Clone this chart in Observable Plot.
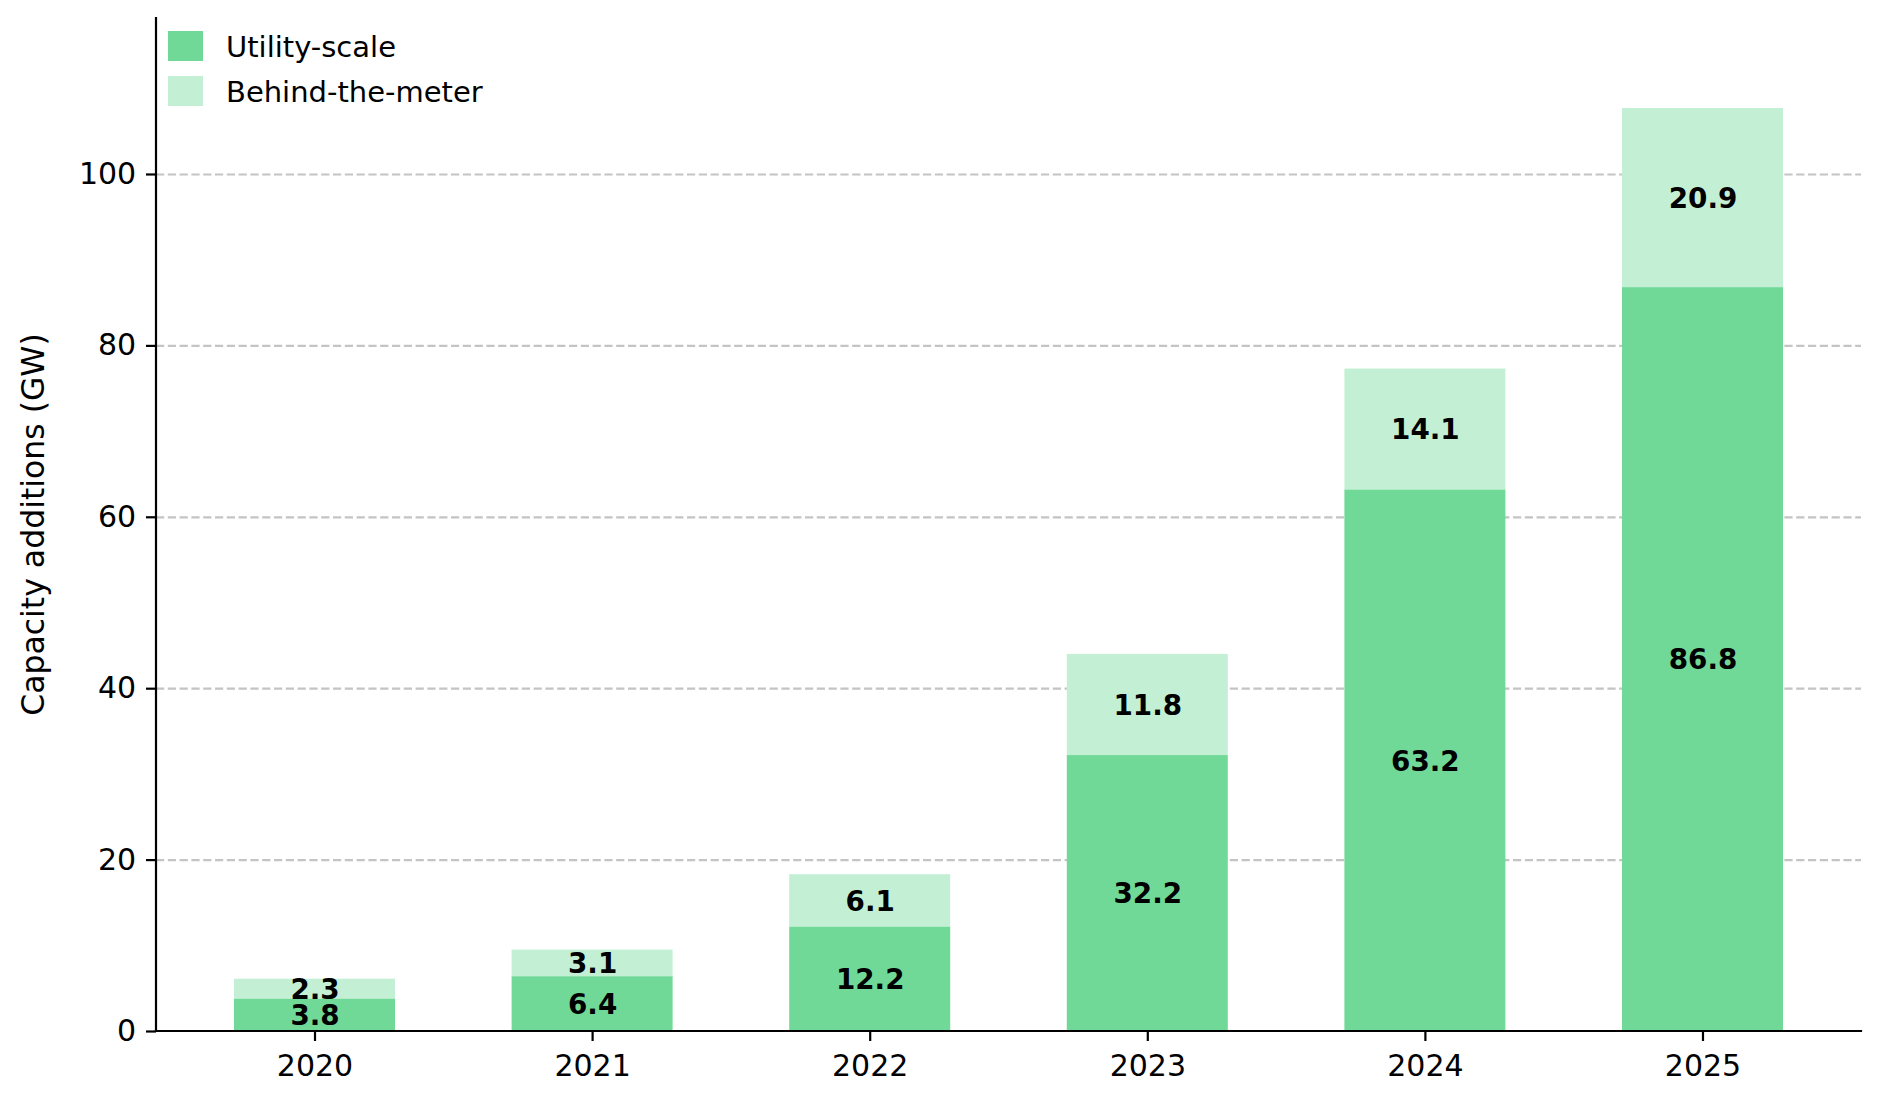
<!DOCTYPE html>
<html><head><meta charset="utf-8">
<script src="https://cdn.jsdelivr.net/npm/d3@7"></script>
<script src="https://cdn.jsdelivr.net/npm/@observablehq/plot@0.6"></script>
<style>
html,body{margin:0;padding:0;background:#fff;}
#chart{position:relative;width:1880px;height:1099px;}
svg{overflow:visible}
</style></head><body><div id="chart"></div>
<script>
const years = ["2020","2021","2022","2023","2024","2025"];
const seriesNames = ["Utility-scale","Behind-the-meter"];
const utilityScale = [3.8, 6.4, 12.2, 32.2, 63.2, 86.8];
const behindTheMeter = [2.3, 3.1, 6.1, 11.8, 14.1, 20.9];
const seriesColors = ["#70d997", "#c3f0d4"];
const yTicks = [0, 20, 40, 60, 80, 100];
const yLabel = "Capacity additions (GW)";
const yMax = 118.2;

const seriesValues = [utilityScale, behindTheMeter];
const table = [];
seriesNames.forEach((s, si) => years.forEach((y, i) => table.push({year: y, series: s, value: seriesValues[si][i]})));

const font = "DejaVu Sans";
const tickFs = 30;
const labelFs = 27.8;
const legendFs = 29;
const yLabelFs = 31.5;
const lw = 2.2;

function spines(index, scales, values, dim) {
  const g = d3.create("svg:g");
  const x0 = dim.marginLeft, x1 = dim.width - dim.marginRight;
  const y0 = dim.marginTop, y1 = dim.height - dim.marginBottom;
  g.append("line").attr("x1", x0).attr("x2", x0).attr("y1", y0).attr("y2", y1)
    .attr("stroke", "#000").attr("stroke-width", lw).attr("stroke-linecap", "square");
  g.append("line").attr("x1", x0).attr("x2", x1).attr("y1", y1).attr("y2", y1)
    .attr("stroke", "#000").attr("stroke-width", lw).attr("stroke-linecap", "square");
  return g.node();
}

function legend(index, scales, values, dim) {
  const g = d3.create("svg:g").attr("font-family", font).attr("font-size", legendFs).attr("text-anchor", "start");
  seriesNames.forEach((s, i) => {
    const top = dim.marginTop + 13 + i * 45;
    g.append("rect").attr("x", dim.marginLeft + 12).attr("y", top).attr("width", 35).attr("height", 30)
      .attr("fill", scales.color(s));
    g.append("text").attr("x", dim.marginLeft + 70).attr("y", top + 25.5)
      .attr("text-anchor", "start").attr("fill", "#000").text(s);
  });
  return g.node();
}

function yAxisLabel(index, scales, values, dim) {
  const g = d3.create("svg:g");
  const cy = (dim.marginTop + dim.height - dim.marginBottom) / 2;
  g.append("text").attr("transform", `translate(44,${cy}) rotate(-90)`)
    .attr("text-anchor", "middle").attr("font-family", font).attr("font-size", yLabelFs)
    .attr("fill", "#000").text(yLabel);
  return g.node();
}

const plot = Plot.plot({
  width: 1880, height: 1099,
  marginLeft: 156, marginRight: 19, marginTop: 18, marginBottom: 68,
  style: {fontFamily: font, fontSize: tickFs + "px", color: "#000", background: "#fff"},
  x: {type: "band", domain: years, paddingInner: 0.42, paddingOuter: 0.281, align: 0.5, round: false, label: null},
  y: {domain: [0, yMax], label: null},
  color: {domain: seriesNames, range: seriesColors},
  marks: [
    Plot.gridY(yTicks.filter(t => t > 0), {stroke: "#c4c4c4", strokeOpacity: 1, strokeWidth: lw, strokeDasharray: "8.2,3.6"}),
    Plot.barY(table, {x: "year", y: "value", fill: "series", z: "series"}),
    Plot.text(table, Plot.stackY({x: "year", y: "value", z: "series", text: d => d.value.toFixed(1),
      fill: "#000", fontWeight: "bold", fontSize: labelFs, dy: 1})),
    Plot.axisX({tickSize: 10, tickPadding: 13.5, strokeWidth: lw, fontSize: tickFs, label: null}),
    Plot.axisY({ticks: yTicks, tickSize: 10, tickPadding: 10.3, strokeWidth: lw, fontSize: tickFs, label: null}),
    spines,
    legend,
    yAxisLabel
  ]
});
document.getElementById("chart").appendChild(plot);
</script>
</body></html>
